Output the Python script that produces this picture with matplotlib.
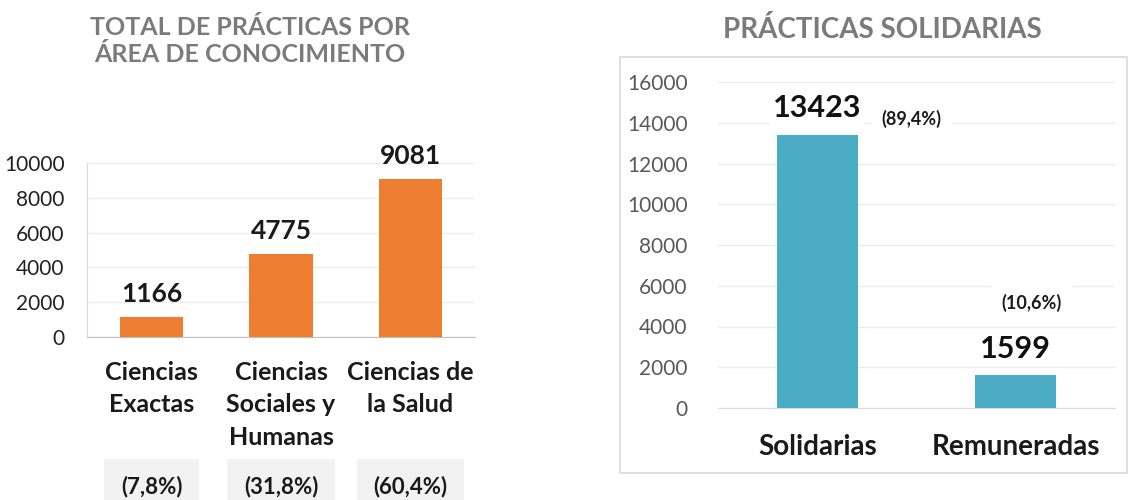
import matplotlib
matplotlib.use("Agg")
import matplotlib.pyplot as plt
from matplotlib.patches import Rectangle

# ---- data ----
areas = ["Ciencias\nExactas", "Ciencias\nSociales y\nHumanas", "Ciencias de\nla Salud"]
area_values = [1166, 4775, 9081]
area_pcts = ["(7,8%)", "(31,8%)", "(60,4%)"]
area_ticks = [0, 2000, 4000, 6000, 8000, 10000]

tipos = ["Solidarias", "Remuneradas"]
tipo_values = [13423, 1599]
tipo_pcts = ["(89,4%)", "(10,6%)"]
tipo_ticks = [0, 2000, 4000, 6000, 8000, 10000, 12000, 14000, 16000]

title_left = "TOTAL DE PRÁCTICAS POR\nÁREA DE CONOCIMIENTO"
title_right = "PRÁCTICAS SOLIDARIAS"

plt.rcParams['font.family'] = ['Lato', 'DejaVu Sans']

W, H = 1130, 500
fig = plt.figure(figsize=(W / 100, H / 100), dpi=100)

def fbox(x0, y0, x1, y1):
    # pixel (top-left origin) -> figure fraction
    return [x0 / W, 1 - y1 / H, (x1 - x0) / W, (y1 - y0) / H]

TITLE_GRAY = "#7b7b7b"
GRID = "#ececec"

# ---------------- left chart ----------------
ax1 = fig.add_axes(fbox(87, 163, 475, 337))
x1 = list(range(len(areas)))
ax1.bar(x1, area_values, width=0.49, color="#ED7D31", zorder=3)
ax1.set_xlim(-0.5, len(areas) - 0.5)
ax1.set_ylim(0, 10000)
ax1.set_yticks(area_ticks)
ax1.set_yticklabels([str(t) for t in area_ticks], fontsize=15, color="#222222")
ax1.tick_params(axis='y', length=0, pad=16)
ax1.set_xticks(x1)
ax1.set_xticklabels(areas, fontsize=18, fontweight='bold', color="#1a1a1a",
                    linespacing=1.5, va='top')
ax1.tick_params(axis='x', length=0, pad=17)
ax1.grid(axis='y', color=GRID, lw=1, zorder=0)
for s in ["top", "right"]:
    ax1.spines[s].set_visible(False)
ax1.spines["left"].set_color("#d9d9d9")
ax1.spines["bottom"].set_color("#bfbfbf")
for xi, v in zip(x1, area_values):
    ax1.annotate(str(v), (xi, v), xytext=(0, 8), textcoords="offset points",
                 ha='center', va='bottom', fontsize=19, fontweight='bold', color="#1a1a1a")
for xi, p in zip(x1, area_pcts):
    ax1.text(xi, -0.862, p, transform=ax1.get_xaxis_transform(), ha='center', va='center',
             fontsize=16, fontweight='bold', color="#1a1a1a",
             bbox=dict(boxstyle="square,pad=0.75", fc="#f2f2f2", ec="none"))

fig.text(250 / W, 1 - 41 / H, title_left, ha='center', va='center', fontsize=18,
         fontweight='bold', color=TITLE_GRAY, linespacing=1.2)

# ---------------- right chart ----------------
frame = Rectangle((620 / W, 1 - 473 / H), (1127 - 620) / W, (473 - 57) / H,
                  transform=fig.transFigure, fc="white", ec="#d9d9d9", lw=1.2, zorder=-1)
fig.patches.append(frame)

ax2 = fig.add_axes(fbox(718, 82, 1115, 408))
ax2.set_zorder(1)
ax2.set_facecolor("none")
x2 = list(range(len(tipos)))
ax2.bar(x2, tipo_values, width=0.41, color="#4BACC6", zorder=3)
ax2.set_xlim(-0.5, len(tipos) - 0.5)
ax2.set_ylim(0, 16000)
ax2.set_yticks(tipo_ticks)
ax2.set_yticklabels([str(t) for t in tipo_ticks], fontsize=15, color="#595959")
ax2.tick_params(axis='y', length=0, pad=22)
ax2.set_xticks(x2)
ax2.set_xticklabels(tipos, fontsize=20, fontweight='bold', color="#1a1a1a")
ax2.tick_params(axis='x', length=0, pad=19)
ax2.grid(axis='y', color=GRID, lw=1, zorder=0)
for s in ["top", "right", "left"]:
    ax2.spines[s].set_visible(False)
ax2.spines["bottom"].set_color("#d9d9d9")
for xi, v in zip(x2, tipo_values):
    ax2.annotate(str(v), (xi, v), xytext=(0, 9), textcoords="offset points",
                 ha='center', va='bottom', fontsize=22, fontweight='bold', color="#111111",
                 bbox=dict(boxstyle="square,pad=0.1", fc="white", ec="none"))
# percentage labels beside/above bars
ax2.annotate(tipo_pcts[0], (x2[0], tipo_values[0]), xytext=(68, 11), textcoords="offset points",
             ha='center', va='center', fontsize=13, fontweight='bold', color="#1a1a1a",
             bbox=dict(boxstyle="square,pad=0.6", fc="white", ec="none"))
ax2.annotate(tipo_pcts[1], (x2[1], tipo_values[1]), xytext=(11.5, 52), textcoords="offset points",
             ha='center', va='center', fontsize=13, fontweight='bold', color="#1a1a1a",
             bbox=dict(boxstyle="square,pad=0.6", fc="white", ec="none"))

fig.text(882 / W, 1 - 30 / H, title_right, ha='center', va='center', fontsize=20,
         fontweight='bold', color=TITLE_GRAY)

fig.savefig("out.png", dpi=100)
